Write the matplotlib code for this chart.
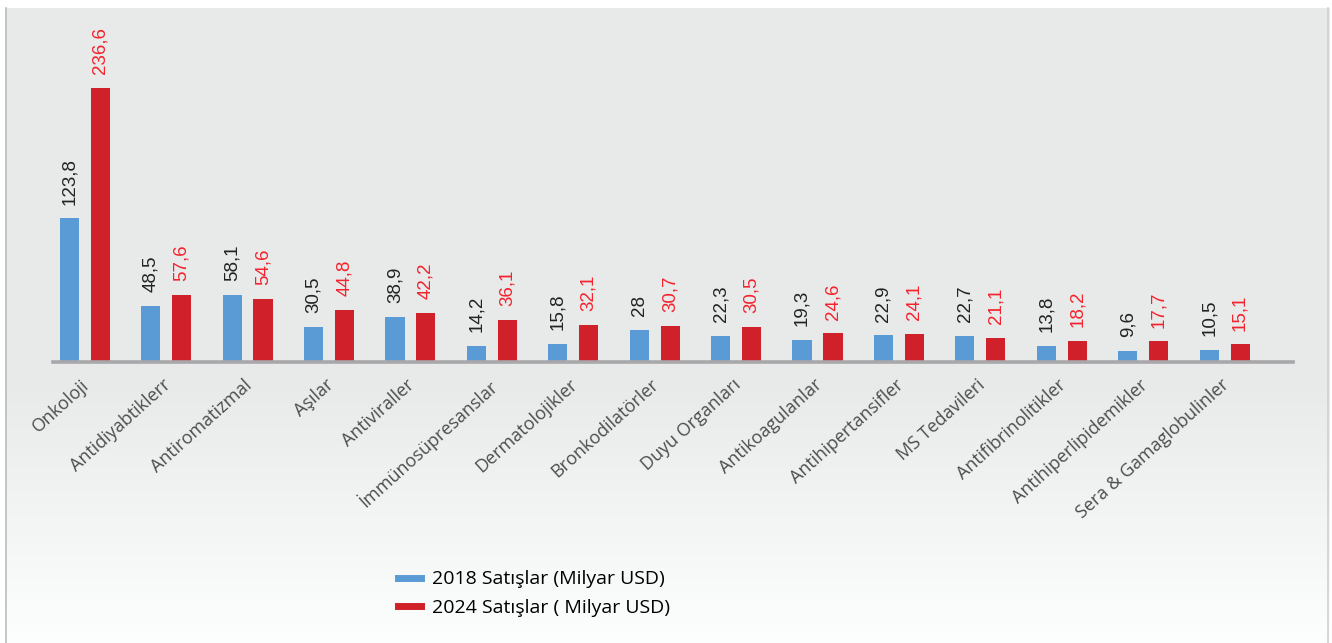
import numpy as np
import matplotlib
matplotlib.use("Agg")
import matplotlib.pyplot as plt
from matplotlib.lines import Line2D

categories = ["Onkoloji", "Antidiyabtiklerr", "Antiromatizmal", "Aşılar", "Antiviraller",
              "İmmünosüpresanslar", "Dermatolojikler", "Bronkodilatörler", "Duyu Organları",
              "Antikoagulanlar", "Antihipertansifler", "MS Tedavileri", "Antifibrinolitikler",
              "Antihiperlipidemikler", "Sera & Gamaglobulinler"]
sales_2018 = [123.8, 48.5, 58.1, 30.5, 38.9, 14.2, 15.8, 28, 22.3, 19.3, 22.9, 22.7, 13.8, 9.6, 10.5]
sales_2024 = [236.6, 57.6, 54.6, 44.8, 42.2, 36.1, 32.1, 30.7, 30.5, 24.6, 24.1, 21.1, 18.2, 17.7, 15.1]
labels_2018 = ["123,8", "48,5", "58,1", "30,5", "38,9", "14,2", "15,8", "28", "22,3", "19,3",
               "22,9", "22,7", "13,8", "9,6", "10,5"]
labels_2024 = ["236,6", "57,6", "54,6", "44,8", "42,2", "36,1", "32,1", "30,7", "30,5", "24,6",
               "24,1", "21,1", "18,2", "17,7", "15,1"]
legend_labels = ["2018 Satışlar (Milyar USD)", "2024 Satışlar ( Milyar USD)"]

BLUE = "#5B9BD5"
RED = "#D0202A"
RED_TXT = "#F5222D"

W, H = 1332, 643
fig = plt.figure(figsize=(W / 100, H / 100), dpi=100)
fig.patch.set_facecolor("white")

# background panel with gradient
bg = fig.add_axes([5 / W, 0, 1325 / W, (H - 8) / H], zorder=0)
rows = np.arange(H - 8)
vals = np.where(rows < 370, 232.0, 232.0 + (rows - 370) / (H - 8 - 370) * 21.0)
grad = np.repeat(vals[:, None], 2, axis=1) / 255.0
img = np.stack([grad, grad + 1 / 255.0, grad + 1 / 255.0], axis=-1).clip(0, 1)
bg.imshow(img, aspect="auto", extent=[0, 1, 0, 1], origin="upper")
bg.set_xlim(0, 1)
bg.set_ylim(0, 1)
bg.axis("off")
bg.plot([0.0008, 0.0008], [0, 1], color="#BDBDBD", lw=1.2, transform=bg.transAxes, clip_on=False)
bg.plot([0.9985, 0.9985], [0, 1], color="#D0D0D0", lw=1.2, transform=bg.transAxes, clip_on=False)

ax = fig.add_axes([53 / W, 1 - 362 / H, (1293 - 53) / W, (362 - 72) / H], zorder=1)
ax.patch.set_alpha(0)
x = np.arange(len(categories))
bw = 0.235
off = 0.19
ax.bar(x - off, sales_2018, width=bw, color=BLUE, zorder=2)
ax.bar(x + off, sales_2024, width=bw, color=RED, zorder=2)
ax.set_xlim(-0.39, len(categories) - 1 + 0.84)
ax.set_ylim(0, 250)

for xi, v, t in zip(x, sales_2018, labels_2018):
    ax.annotate(t, (xi - off, v), xytext=(0, 10), textcoords="offset points", rotation=90,
                ha="center", va="bottom", fontsize=13.5, color="#222222",
                family="Liberation Sans", clip_on=False)
for xi, v, t in zip(x, sales_2024, labels_2024):
    ax.annotate(t, (xi + off, v), xytext=(0, 10), textcoords="offset points", rotation=90,
                ha="center", va="bottom", fontsize=13.5, color=RED_TXT,
                family="Liberation Sans", clip_on=False)

for s in ["top", "right", "left"]:
    ax.spines[s].set_visible(False)
ax.spines["bottom"].set_color("#A8A8AA")
ax.spines["bottom"].set_linewidth(2.6)
ax.set_yticks([])
ax.set_xticks(x - 0.05)
ax.set_xticklabels(categories, rotation=42, ha="right", rotation_mode="anchor",
                   fontsize=13, color="#4D4D4D", family="Open Sans")
ax.tick_params(axis="x", length=0, pad=10)

handles = [Line2D([0], [0], color=BLUE, lw=5), Line2D([0], [0], color=RED, lw=5)]
fig.legend(handles, legend_labels, loc="upper left", bbox_to_anchor=(380 / W, 1 - 553 / H),
           frameon=False, handlelength=1.2, handletextpad=0.55,
           labelspacing=0.55, prop={"family": "Open Sans", "size": 14})

fig.savefig("out.png", dpi=100)
